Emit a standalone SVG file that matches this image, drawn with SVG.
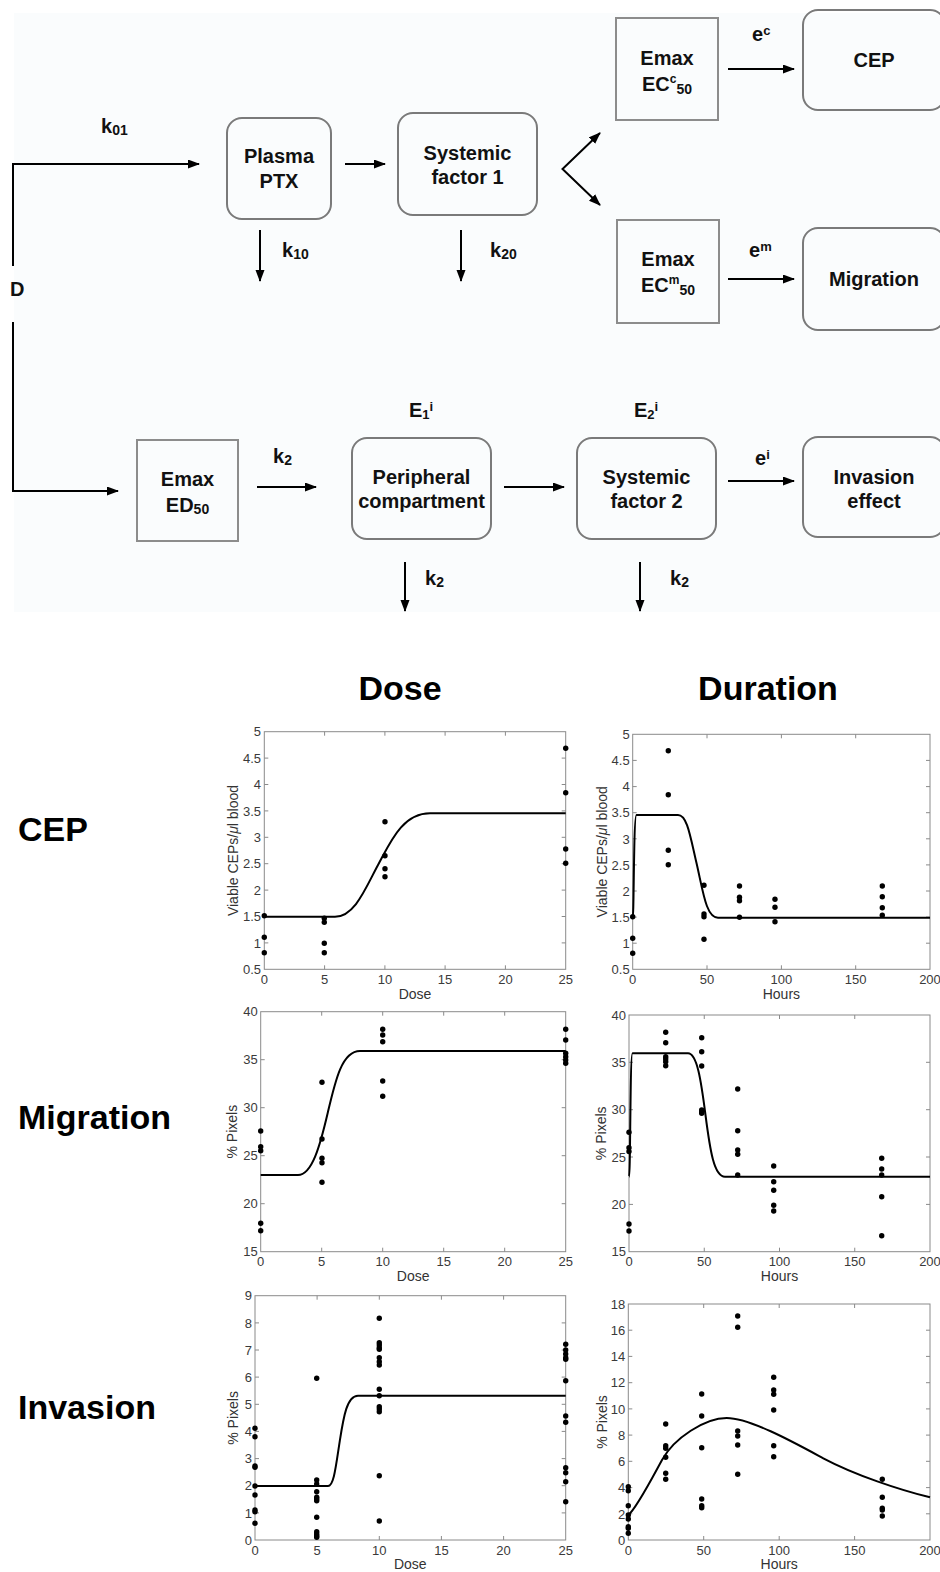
<svg xmlns="http://www.w3.org/2000/svg" width="940" height="1572" viewBox="0 0 940 1572">
<style>
.bg{fill:#fafcfd}
.rbox{fill:none;stroke:#7a7a7a;stroke-width:2}
.sbox{fill:none;stroke:#8c8c8c;stroke-width:2}
.lbl{font-family:"Liberation Sans",Arial,Helvetica,sans-serif;font-weight:bold;font-size:20px;fill:#111}
.mid{text-anchor:middle}
.sub{font-size:14px}
.sup{font-size:13px}
.big{font-family:"Liberation Sans",Arial,Helvetica,sans-serif;font-weight:bold;font-size:34px;fill:#000}
.conn{stroke:#000;stroke-width:2;fill:none}
.arr{marker-end:url(#ah)}
.ax{fill:none;stroke:#8a8a8a;stroke-width:1}
.tk{font-family:"Liberation Sans",Arial,Helvetica,sans-serif;font-size:13px;fill:#3a3a3a}
.yl{text-anchor:end}
.xl{text-anchor:middle}
.at{font-family:"Liberation Sans",Arial,Helvetica,sans-serif;font-size:14px;fill:#333;text-anchor:middle}
.crv{fill:none;stroke:#000;stroke-width:2}
.dots circle{fill:#000}
</style>
<defs>
<marker id="ah" markerUnits="userSpaceOnUse" markerWidth="12" markerHeight="10" refX="11" refY="4.5" orient="auto-start-reverse">
<path d="M0,0 L12,4.5 L0,9 z" fill="#000"/>
</marker>
</defs>
<rect width="940" height="1572" fill="#fff"/>
<rect class="bg" x="14" y="13" width="926" height="599"/>

<g id="connectors">
<path class="conn arr" d="M13,266 L13,164 L199,164"/>
<path class="conn arr" d="M13,322 L13,491 L118,491"/>
<path class="conn arr" d="M345,164 L385,164"/>
<path class="conn arr" d="M260,230 L260,281"/>
<path class="conn arr" d="M461,230 L461,281"/>
<path class="conn" d="M600,133 L562.5,169 L600,205" marker-start="url(#ah)" marker-end="url(#ah)"/>
<path class="conn arr" d="M728,69 L794,69"/>
<path class="conn arr" d="M728,279 L794,279"/>
<path class="conn arr" d="M257,487 L316,487"/>
<path class="conn arr" d="M504,487 L564,487"/>
<path class="conn arr" d="M728,481 L794,481"/>
<path class="conn arr" d="M405,562 L405,611"/>
<path class="conn arr" d="M640,562 L640,611"/>
</g>

<g id="labels">
<text class="lbl" x="101" y="133">k<tspan class="sub" dy="2">01</tspan></text>
<text class="lbl" x="282" y="257">k<tspan class="sub" dy="2">10</tspan></text>
<text class="lbl" x="490" y="257">k<tspan class="sub" dy="2">20</tspan></text>
<text class="lbl" x="10" y="296">D</text>
<text class="lbl" x="752" y="41">e<tspan class="sup" dy="-6">c</tspan></text>
<text class="lbl" x="749" y="257">e<tspan class="sup" dy="-6">m</tspan></text>
<text class="lbl" x="273" y="463">k<tspan class="sub" dy="2">2</tspan></text>
<text class="lbl" x="409" y="417">E<tspan class="sup" dy="2">1</tspan><tspan class="sup" dy="-8">i</tspan></text>
<text class="lbl" x="634" y="417">E<tspan class="sup" dy="2">2</tspan><tspan class="sup" dy="-8">i</tspan></text>
<text class="lbl" x="755" y="465">e<tspan class="sup" dy="-6">i</tspan></text>
<text class="lbl" x="425" y="585">k<tspan class="sub" dy="2">2</tspan></text>
<text class="lbl" x="670" y="585">k<tspan class="sub" dy="2">2</tspan></text>
</g>

<g id="plasma">
<rect class="rbox" x="227" y="118" width="104" height="101" rx="15"/>
<text class="lbl mid" x="279" y="163">Plasma</text>
<text class="lbl mid" x="279" y="188">PTX</text>
</g>
<g id="systemic1">
<rect class="rbox" x="398" y="113" width="139" height="102" rx="15"/>
<text class="lbl mid" x="467.5" y="160">Systemic</text>
<text class="lbl mid" x="467.5" y="184">factor 1</text>
</g>
<g id="emax-c">
<rect class="sbox" x="616" y="18" width="102" height="102"/>
<text class="lbl mid" x="667" y="65">Emax</text>
<text class="lbl mid" x="667" y="91">EC<tspan font-size="12" dy="-8">c</tspan><tspan class="sub" dy="11">50</tspan></text>
</g>
<g id="cep">
<rect class="rbox" x="803" y="10" width="142" height="100" rx="15"/>
<text class="lbl mid" x="874" y="67">CEP</text>
</g>
<g id="emax-m">
<rect class="sbox" x="617" y="220" width="102" height="103"/>
<text class="lbl mid" x="668" y="266">Emax</text>
<text class="lbl mid" x="668" y="292">EC<tspan font-size="12" dy="-8">m</tspan><tspan class="sub" dy="11">50</tspan></text>
</g>
<g id="migration">
<rect class="rbox" x="803" y="228" width="142" height="102" rx="15"/>
<text class="lbl mid" x="874" y="286">Migration</text>
</g>
<g id="emax-ed">
<rect class="sbox" x="137" y="440" width="101" height="101"/>
<text class="lbl mid" x="187.5" y="486">Emax</text>
<text class="lbl mid" x="187.5" y="512">ED<tspan class="sub" dy="2">50</tspan></text>
</g>
<g id="peripheral">
<rect class="rbox" x="352" y="438" width="139" height="101" rx="15"/>
<text class="lbl mid" x="421.5" y="484">Peripheral</text>
<text class="lbl mid" x="421.5" y="508">compartment</text>
</g>
<g id="systemic2">
<rect class="rbox" x="577" y="438" width="139" height="101" rx="15"/>
<text class="lbl mid" x="646.5" y="484">Systemic</text>
<text class="lbl mid" x="646.5" y="508">factor 2</text>
</g>
<g id="invasion-effect">
<rect class="rbox" x="803" y="437" width="142" height="100" rx="15"/>
<text class="lbl mid" x="874" y="484">Invasion</text>
<text class="lbl mid" x="874" y="508">effect</text>
</g>

<g id="titles">
<text class="big" x="400" y="700" text-anchor="middle">Dose</text>
<text class="big" x="768" y="700" text-anchor="middle">Duration</text>
<text class="big" x="18" y="841">CEP</text>
<text class="big" x="18" y="1129">Migration</text>
<text class="big" x="18" y="1419">Invasion</text>
</g>

<!-- Plot 1: CEP vs Dose -->
<g id="plot-cep-dose">
<rect class="ax" x="264.3" y="731.7" width="301.4" height="237.6"/>
<path class="ax" d="M264.3,942.9h4M264.3,916.5h4M264.3,890.1h4M264.3,863.7h4M264.3,837.3h4M264.3,810.9h4M264.3,784.5h4M264.3,758.1h4M565.7,942.9h-4M565.7,916.5h-4M565.7,890.1h-4M565.7,863.7h-4M565.7,837.3h-4M565.7,810.9h-4M565.7,784.5h-4M565.7,758.1h-4M324.6,969.3v-4M384.9,969.3v-4M445.1,969.3v-4M505.4,969.3v-4M324.6,731.7v4M384.9,731.7v4M445.1,731.7v4M505.4,731.7v4"/>
<g class="tk yl">
<text x="261" y="974">0.5</text><text x="261" y="947.6">1</text><text x="261" y="921.2">1.5</text><text x="261" y="894.8">2</text><text x="261" y="868.4">2.5</text><text x="261" y="842">3</text><text x="261" y="815.6">3.5</text><text x="261" y="789.2">4</text><text x="261" y="762.8">4.5</text><text x="261" y="736.4">5</text>
</g>
<g class="tk xl">
<text x="264.3" y="984">0</text><text x="324.6" y="984">5</text><text x="384.9" y="984">10</text><text x="445.1" y="984">15</text><text x="505.4" y="984">20</text><text x="565.7" y="984">25</text>
</g>
<text class="at" x="415" y="998.5">Dose</text>
<text class="at" transform="translate(238,850.5) rotate(-90)">Viable CEPs/<tspan font-style="italic">μ</tspan>l blood</text>
<path class="crv" d="M264.3,916.7 L335,916.7 C355,916.7 366,887 378,865 C390,843 402,813.3 430,813.3 L565.7,813.3"/>
<g class="dots">
<circle cx="264.3" cy="915.7" r="2.7"/><circle cx="264.3" cy="937.3" r="2.7"/><circle cx="264.3" cy="952.7" r="2.7"/>
<circle cx="324.3" cy="918.3" r="2.7"/><circle cx="324.3" cy="922.3" r="2.7"/><circle cx="324.3" cy="943.3" r="2.7"/><circle cx="324.3" cy="952.7" r="2.7"/>
<circle cx="385" cy="821.7" r="2.7"/><circle cx="385" cy="855.7" r="2.7"/><circle cx="385" cy="868.7" r="2.7"/><circle cx="385" cy="876.7" r="2.7"/>
<circle cx="565.7" cy="748.3" r="2.7"/><circle cx="565.7" cy="792.7" r="2.7"/><circle cx="565.7" cy="849" r="2.7"/><circle cx="565.7" cy="863.3" r="2.7"/>
</g>
</g>

<!-- Plot 2: CEP vs Hours -->
<g id="plot-cep-hours">
<rect class="ax" x="632.7" y="734.3" width="297.3" height="235"/>
<path class="ax" d="M632.7,943.2h4M632.7,917.1h4M632.7,891h4M632.7,864.9h4M632.7,838.8h4M632.7,812.7h4M632.7,786.6h4M632.7,760.4h4M930,943.2h-4M930,917.1h-4M930,891h-4M930,864.9h-4M930,838.8h-4M930,812.7h-4M930,786.6h-4M930,760.4h-4M707,969.3v-4M781.4,969.3v-4M855.7,969.3v-4M707,734.3v4M781.4,734.3v4M855.7,734.3v4"/>
<g class="tk yl">
<text x="629.7" y="974">0.5</text><text x="629.7" y="947.9">1</text><text x="629.7" y="921.8">1.5</text><text x="629.7" y="895.7">2</text><text x="629.7" y="869.6">2.5</text><text x="629.7" y="843.5">3</text><text x="629.7" y="817.4">3.5</text><text x="629.7" y="791.3">4</text><text x="629.7" y="765.1">4.5</text><text x="629.7" y="739">5</text>
</g>
<g class="tk xl">
<text x="632.7" y="984">0</text><text x="707" y="984">50</text><text x="781.4" y="984">100</text><text x="855.7" y="984">150</text><text x="930" y="984">200</text>
</g>
<text class="at" x="781.4" y="998.5">Hours</text>
<text class="at" transform="translate(607,851.8) rotate(-90)">Viable CEPs/<tspan font-style="italic">μ</tspan>l blood</text>
<path class="crv" d="M632.7,917.7 C634,917.7 633.5,815 636.5,815 L678,815 C687,815 690,835 696.5,863 C703,891 706,917.7 718,917.7 L930,917.7"/>
<g class="dots">
<circle cx="632.7" cy="916.7" r="2.7"/><circle cx="632.7" cy="938.3" r="2.7"/><circle cx="632.7" cy="953.3" r="2.7"/>
<circle cx="668.3" cy="750.7" r="2.7"/><circle cx="668.3" cy="794.7" r="2.7"/><circle cx="668.3" cy="850.3" r="2.7"/><circle cx="668.3" cy="864.7" r="2.7"/>
<circle cx="704" cy="885.3" r="2.7"/><circle cx="704" cy="914" r="2.7"/><circle cx="704" cy="916.7" r="2.7"/><circle cx="704" cy="939.3" r="2.7"/>
<circle cx="739.5" cy="886" r="2.7"/><circle cx="739.5" cy="897.3" r="2.7"/><circle cx="739.5" cy="900.7" r="2.7"/><circle cx="739.5" cy="917.3" r="2.7"/>
<circle cx="775" cy="899.3" r="2.7"/><circle cx="775" cy="907.3" r="2.7"/><circle cx="775" cy="921.7" r="2.7"/>
<circle cx="882.3" cy="886" r="2.7"/><circle cx="882.3" cy="896.7" r="2.7"/><circle cx="882.3" cy="907.7" r="2.7"/><circle cx="882.3" cy="915.3" r="2.7"/>
</g>
</g>

<!-- Plot 3: Migration vs Dose -->
<g id="plot-mig-dose">
<rect class="ax" x="260.7" y="1011.7" width="305" height="240"/>
<path class="ax" d="M260.7,1203.7h4M260.7,1155.7h4M260.7,1107.7h4M260.7,1059.7h4M565.7,1203.7h-4M565.7,1155.7h-4M565.7,1107.7h-4M565.7,1059.7h-4M321.7,1251.7v-4M382.7,1251.7v-4M443.7,1251.7v-4M504.7,1251.7v-4M321.7,1011.7v4M382.7,1011.7v4M443.7,1011.7v4M504.7,1011.7v4"/>
<g class="tk yl">
<text x="257.7" y="1256.4">15</text><text x="257.7" y="1208.4">20</text><text x="257.7" y="1160.4">25</text><text x="257.7" y="1112.4">30</text><text x="257.7" y="1064.4">35</text><text x="257.7" y="1016.4">40</text>
</g>
<g class="tk xl">
<text x="260.7" y="1266">0</text><text x="321.7" y="1266">5</text><text x="382.7" y="1266">10</text><text x="443.7" y="1266">15</text><text x="504.7" y="1266">20</text><text x="565.7" y="1266">25</text>
</g>
<text class="at" x="413.2" y="1281">Dose</text>
<text class="at" transform="translate(237,1131.7) rotate(-90)">% Pixels</text>
<path class="crv" d="M260.7,1175 L298,1175 C312,1175 320,1146 327.7,1113 C335.4,1080 342,1051 360,1051 L565.7,1051"/>
<g class="dots">
<circle cx="260.7" cy="1131" r="2.7"/><circle cx="260.7" cy="1146.7" r="2.7"/><circle cx="260.7" cy="1150.7" r="2.7"/><circle cx="260.7" cy="1223.3" r="2.7"/><circle cx="260.7" cy="1230.7" r="2.7"/>
<circle cx="322" cy="1082.3" r="2.7"/><circle cx="322" cy="1139" r="2.7"/><circle cx="322" cy="1158.3" r="2.7"/><circle cx="322" cy="1162.7" r="2.7"/><circle cx="322" cy="1182.3" r="2.7"/>
<circle cx="382.7" cy="1029.3" r="2.7"/><circle cx="382.7" cy="1035" r="2.7"/><circle cx="382.7" cy="1041.7" r="2.7"/><circle cx="382.7" cy="1081" r="2.7"/><circle cx="382.7" cy="1096.3" r="2.7"/>
<circle cx="565.7" cy="1029.3" r="2.7"/><circle cx="565.7" cy="1040" r="2.7"/><circle cx="565.7" cy="1053.3" r="2.7"/><circle cx="565.7" cy="1056.7" r="2.7"/><circle cx="565.7" cy="1060" r="2.7"/><circle cx="565.7" cy="1063.3" r="2.7"/>
</g>
</g>

<!-- Plot 4: Migration vs Hours -->
<g id="plot-mig-hours">
<rect class="ax" x="629" y="1015" width="301" height="236.7"/>
<path class="ax" d="M629,1204.4h4M629,1157h4M629,1109.7h4M629,1062.3h4M930,1204.4h-4M930,1157h-4M930,1109.7h-4M930,1062.3h-4M704.25,1251.7v-4M779.5,1251.7v-4M854.75,1251.7v-4M704.25,1015v4M779.5,1015v4M854.75,1015v4"/>
<g class="tk yl">
<text x="626" y="1256.4">15</text><text x="626" y="1209.1">20</text><text x="626" y="1161.7">25</text><text x="626" y="1114.4">30</text><text x="626" y="1067">35</text><text x="626" y="1019.7">40</text>
</g>
<g class="tk xl">
<text x="629" y="1266">0</text><text x="704.25" y="1266">50</text><text x="779.5" y="1266">100</text><text x="854.75" y="1266">150</text><text x="930" y="1266">200</text>
</g>
<text class="at" x="779.5" y="1281">Hours</text>
<text class="at" transform="translate(606,1133.3) rotate(-90)">% Pixels</text>
<path class="crv" d="M629,1176.7 C630.5,1176.7 630,1053.3 632.5,1053.3 L688,1053.3 C697,1053.3 701,1080 705.5,1115 C710,1150 714,1176.7 725,1176.7 L930,1176.7"/>
<g class="dots">
<circle cx="629" cy="1132.3" r="2.7"/><circle cx="629" cy="1147.7" r="2.7"/><circle cx="629" cy="1151.5" r="2.7"/><circle cx="629" cy="1224" r="2.7"/><circle cx="629" cy="1231" r="2.7"/>
<circle cx="665.7" cy="1032.3" r="2.7"/><circle cx="665.7" cy="1042.7" r="2.7"/><circle cx="665.7" cy="1056.7" r="2.7"/><circle cx="665.7" cy="1059" r="2.7"/><circle cx="665.7" cy="1061.7" r="2.7"/><circle cx="665.7" cy="1065.7" r="2.7"/>
<circle cx="701.7" cy="1037.7" r="2.7"/><circle cx="701.7" cy="1051.7" r="2.7"/><circle cx="701.7" cy="1066" r="2.7"/><circle cx="701.7" cy="1110" r="2.7"/><circle cx="701.7" cy="1111.7" r="2.7"/><circle cx="701.7" cy="1113.3" r="2.7"/>
<circle cx="737.7" cy="1089" r="2.7"/><circle cx="737.7" cy="1130.7" r="2.7"/><circle cx="737.7" cy="1150" r="2.7"/><circle cx="737.7" cy="1154.3" r="2.7"/><circle cx="737.7" cy="1175" r="2.7"/>
<circle cx="773.7" cy="1166" r="2.7"/><circle cx="773.7" cy="1181.7" r="2.7"/><circle cx="773.7" cy="1190.3" r="2.7"/><circle cx="773.7" cy="1205.3" r="2.7"/><circle cx="773.7" cy="1211" r="2.7"/>
<circle cx="881.7" cy="1158.3" r="2.7"/><circle cx="881.7" cy="1169" r="2.7"/><circle cx="881.7" cy="1175" r="2.7"/><circle cx="881.7" cy="1196.7" r="2.7"/><circle cx="881.7" cy="1235.7" r="2.7"/>
</g>
</g>

<!-- Plot 5: Invasion vs Dose -->
<g id="plot-inv-dose">
<rect class="ax" x="255" y="1295.7" width="310.7" height="244.3"/>
<path class="ax" d="M255,1512.9h4M255,1485.7h4M255,1458.6h4M255,1431.4h4M255,1404.3h4M255,1377.1h4M255,1350h4M255,1322.9h4M565.7,1512.9h-4M565.7,1485.7h-4M565.7,1458.6h-4M565.7,1431.4h-4M565.7,1404.3h-4M565.7,1377.1h-4M565.7,1350h-4M565.7,1322.9h-4M317.1,1540v-4M379.3,1540v-4M441.4,1540v-4M503.6,1540v-4M317.1,1295.7v4M379.3,1295.7v4M441.4,1295.7v4M503.6,1295.7v4"/>
<g class="tk yl">
<text x="252" y="1544.7">0</text><text x="252" y="1517.6">1</text><text x="252" y="1490.4">2</text><text x="252" y="1463.3">3</text><text x="252" y="1436.1">4</text><text x="252" y="1409">5</text><text x="252" y="1381.8">6</text><text x="252" y="1354.7">7</text><text x="252" y="1327.6">8</text><text x="252" y="1300.4">9</text>
</g>
<g class="tk xl">
<text x="255" y="1554.5">0</text><text x="317.1" y="1554.5">5</text><text x="379.3" y="1554.5">10</text><text x="441.4" y="1554.5">15</text><text x="503.6" y="1554.5">20</text><text x="565.7" y="1554.5">25</text>
</g>
<text class="at" x="410.3" y="1569">Dose</text>
<text class="at" transform="translate(238,1417.9) rotate(-90)">% Pixels</text>
<path class="crv" d="M255,1486 L328,1486 C334,1486 336,1465 339.8,1440.8 C343.6,1416.6 347,1395.7 358,1395.7 L565.7,1395.7"/>
<g class="dots">
<circle cx="255" cy="1428.3" r="2.7"/><circle cx="255" cy="1436.7" r="2.7"/><circle cx="255" cy="1466" r="2.7"/><circle cx="255" cy="1467.3" r="2.7"/><circle cx="255" cy="1486" r="2.7"/><circle cx="255" cy="1495" r="2.7"/><circle cx="255" cy="1510" r="2.7"/><circle cx="255" cy="1511.7" r="2.7"/><circle cx="255" cy="1523.3" r="2.7"/>
<circle cx="316.7" cy="1378.3" r="2.7"/><circle cx="316.7" cy="1480" r="2.7"/><circle cx="316.7" cy="1484" r="2.7"/><circle cx="316.7" cy="1491.7" r="2.7"/><circle cx="316.7" cy="1497.3" r="2.7"/><circle cx="316.7" cy="1499" r="2.7"/><circle cx="316.7" cy="1500.7" r="2.7"/><circle cx="316.7" cy="1517.3" r="2.7"/><circle cx="316.7" cy="1531.7" r="2.7"/><circle cx="316.7" cy="1534" r="2.7"/><circle cx="316.7" cy="1535.7" r="2.7"/><circle cx="316.7" cy="1537.3" r="2.7"/>
<circle cx="379.3" cy="1318.3" r="2.7"/><circle cx="379.3" cy="1342.7" r="2.7"/><circle cx="379.3" cy="1345" r="2.7"/><circle cx="379.3" cy="1347.7" r="2.7"/><circle cx="379.3" cy="1349.3" r="2.7"/><circle cx="379.3" cy="1357.7" r="2.7"/><circle cx="379.3" cy="1361.7" r="2.7"/><circle cx="379.3" cy="1365" r="2.7"/><circle cx="379.3" cy="1389.3" r="2.7"/><circle cx="379.3" cy="1395.7" r="2.7"/><circle cx="379.3" cy="1406.7" r="2.7"/><circle cx="379.3" cy="1409" r="2.7"/><circle cx="379.3" cy="1411.7" r="2.7"/><circle cx="379.3" cy="1475.7" r="2.7"/><circle cx="379.3" cy="1521" r="2.7"/>
<circle cx="565.7" cy="1344.3" r="2.7"/><circle cx="565.7" cy="1350" r="2.7"/><circle cx="565.7" cy="1354" r="2.7"/><circle cx="565.7" cy="1357.7" r="2.7"/><circle cx="565.7" cy="1359.3" r="2.7"/><circle cx="565.7" cy="1380.7" r="2.7"/><circle cx="565.7" cy="1416" r="2.7"/><circle cx="565.7" cy="1422.3" r="2.7"/><circle cx="565.7" cy="1467.7" r="2.7"/><circle cx="565.7" cy="1472.7" r="2.7"/><circle cx="565.7" cy="1481.7" r="2.7"/><circle cx="565.7" cy="1501.7" r="2.7"/>
</g>
</g>

<!-- Plot 6: Invasion vs Hours -->
<g id="plot-inv-hours">
<rect class="ax" x="628.3" y="1304" width="301.7" height="236"/>
<path class="ax" d="M628.3,1513.8h4M628.3,1487.6h4M628.3,1461.3h4M628.3,1435.1h4M628.3,1408.9h4M628.3,1382.7h4M628.3,1356.4h4M628.3,1330.2h4M930,1513.8h-4M930,1487.6h-4M930,1461.3h-4M930,1435.1h-4M930,1408.9h-4M930,1382.7h-4M930,1356.4h-4M930,1330.2h-4M703.7,1540v-4M779.2,1540v-4M854.6,1540v-4M703.7,1304v4M779.2,1304v4M854.6,1304v4"/>
<g class="tk yl">
<text x="625.3" y="1544.7">0</text><text x="625.3" y="1518.5">2</text><text x="625.3" y="1492.3">4</text><text x="625.3" y="1466">6</text><text x="625.3" y="1439.8">8</text><text x="625.3" y="1413.6">10</text><text x="625.3" y="1387.4">12</text><text x="625.3" y="1361.1">14</text><text x="625.3" y="1334.9">16</text><text x="625.3" y="1308.7">18</text>
</g>
<g class="tk xl">
<text x="628.3" y="1554.5">0</text><text x="703.7" y="1554.5">50</text><text x="779.2" y="1554.5">100</text><text x="854.6" y="1554.5">150</text><text x="930" y="1554.5">200</text>
</g>
<text class="at" x="779.2" y="1569">Hours</text>
<text class="at" transform="translate(607,1422) rotate(-90)">% Pixels</text>
<path class="crv" d="M628.3,1515 C636,1509 650,1482 662,1460 C674,1438 705,1418 726.7,1418 C750,1418 795,1443 823.3,1458.3 C855,1475.1 900,1490 930,1497.3"/>
<g class="dots">
<circle cx="628.3" cy="1486.7" r="2.7"/><circle cx="628.3" cy="1490.7" r="2.7"/><circle cx="628.3" cy="1505.7" r="2.7"/><circle cx="628.3" cy="1515" r="2.7"/><circle cx="628.3" cy="1519" r="2.7"/><circle cx="628.3" cy="1526.7" r="2.7"/><circle cx="628.3" cy="1528.3" r="2.7"/><circle cx="628.3" cy="1533.3" r="2.7"/>
<circle cx="665.7" cy="1424" r="2.7"/><circle cx="665.7" cy="1445.7" r="2.7"/><circle cx="665.7" cy="1448.3" r="2.7"/><circle cx="665.7" cy="1457.3" r="2.7"/><circle cx="665.7" cy="1473.3" r="2.7"/><circle cx="665.7" cy="1479.3" r="2.7"/>
<circle cx="701.7" cy="1394" r="2.7"/><circle cx="701.7" cy="1416" r="2.7"/><circle cx="701.7" cy="1447.7" r="2.7"/><circle cx="701.7" cy="1499" r="2.7"/><circle cx="701.7" cy="1505.7" r="2.7"/><circle cx="701.7" cy="1507.7" r="2.7"/>
<circle cx="737.7" cy="1316" r="2.7"/><circle cx="737.7" cy="1327.3" r="2.7"/><circle cx="737.7" cy="1431" r="2.7"/><circle cx="737.7" cy="1436" r="2.7"/><circle cx="737.7" cy="1445" r="2.7"/><circle cx="737.7" cy="1474.3" r="2.7"/>
<circle cx="773.7" cy="1377.3" r="2.7"/><circle cx="773.7" cy="1390" r="2.7"/><circle cx="773.7" cy="1394.3" r="2.7"/><circle cx="773.7" cy="1410" r="2.7"/><circle cx="773.7" cy="1445.7" r="2.7"/><circle cx="773.7" cy="1456.7" r="2.7"/>
<circle cx="882.3" cy="1479.3" r="2.7"/><circle cx="882.3" cy="1497.3" r="2.7"/><circle cx="882.3" cy="1508.3" r="2.7"/><circle cx="882.3" cy="1510" r="2.7"/><circle cx="882.3" cy="1516" r="2.7"/>
</g>
</g>
</svg>
